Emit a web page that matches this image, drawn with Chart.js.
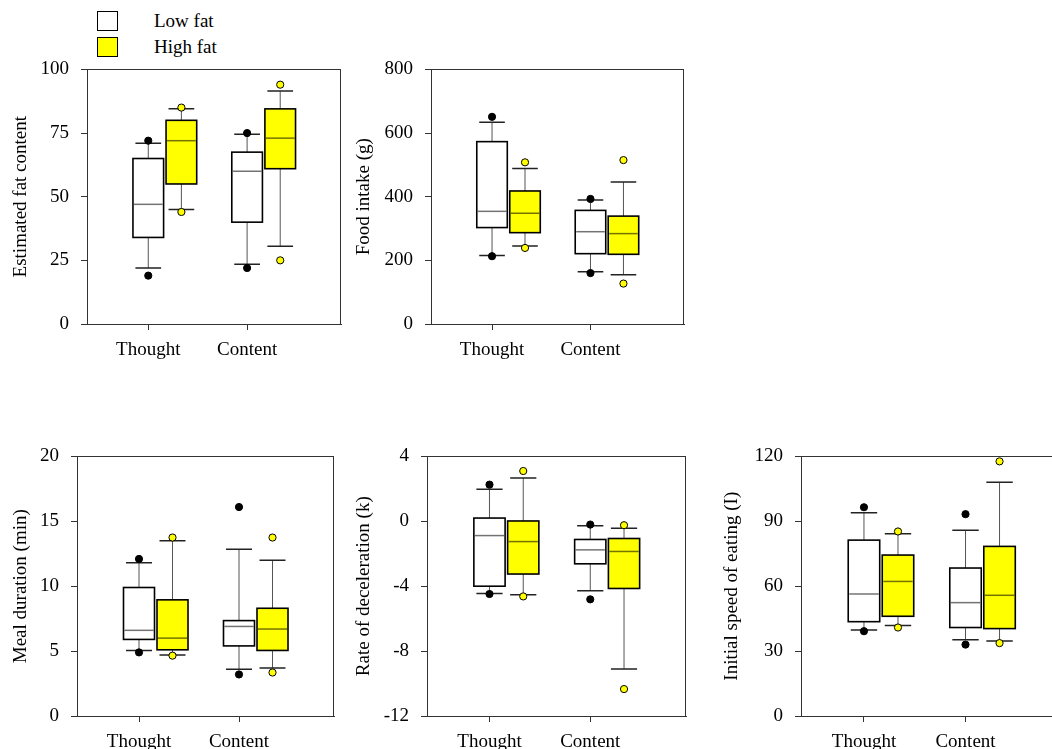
<!DOCTYPE html>
<html>
<head>
<meta charset="utf-8">
<script src="https://cdn.jsdelivr.net/npm/chart.js@4.4.1/dist/chart.umd.min.js"></script>
<style>
  html, body { margin: 0; padding: 0; background: #fff; overflow: hidden; width: 1052px; height: 749px; }
  canvas { position: absolute; }
  .key { position: absolute; width: 21px; height: 20px; box-sizing: border-box; border: 1.5px solid #000; }
  .keyText { position: absolute; font: 19px "Liberation Serif", "Times New Roman", serif; line-height: 20px; color: #000; white-space: nowrap; }
</style>
</head>
<body>
<div class="key" style="left:97px;top:11px;background:#fff"></div>
<div class="keyText" style="left:154px;top:11px">Low fat</div>
<div class="key" style="left:97px;top:37px;background:#ffff00"></div>
<div class="keyText" style="left:154px;top:37px">High fat</div>

<script>
// ---- data ----
const categories = ['Thought', 'Content'];
const groups = ['Low fat', 'High fat'];

// box stats per category: [lower whisker, Q1, median, Q3, upper whisker]
// outliers per category: [lowest point, highest point]
const fatTicks = [0, 25, 50, 75, 100];
const fatLow = [[22, 34, 47, 65, 71], [23.5, 40, 60, 67.5, 74.5]];
const fatLowOut = [[19, 72], [22, 75]];
const fatHigh = [[45, 55, 72, 80, 84.5], [30.5, 61, 73, 84.5, 91.5]];
const fatHighOut = [[44, 85], [25, 94]];

const intakeTicks = [0, 200, 400, 600, 800];
const intakeLow = [[215, 303, 354, 573, 634], [164, 221, 290, 357, 390]];
const intakeLowOut = [[213, 651], [160, 393]];
const intakeHigh = [[245, 287, 348, 418, 489], [155, 219, 284, 339, 446]];
const intakeHighOut = [[239, 508], [127, 515]];

const durationTicks = [0, 5, 10, 15, 20];
const durationLow = [[5.05, 5.9, 6.6, 9.9, 11.8], [3.6, 5.4, 6.9, 7.35, 12.85]];
const durationLowOut = [[4.9, 12.1], [3.2, 16.1]];
const durationHigh = [[4.7, 5.1, 6.0, 8.95, 13.5], [3.7, 5.05, 6.7, 8.3, 12]];
const durationHighOut = [[4.65, 13.75], [3.35, 13.75]];

const decelTicks = [-12, -8, -4, 0, 4];
const decelLow = [[-4.45, -4.0, -0.88, 0.2, 1.97], [-4.28, -2.62, -1.76, -1.12, -0.28]];
const decelLowOut = [[-4.48, 2.26], [-4.81, -0.2]];
const decelHigh = [[-4.52, -3.25, -1.25, 0.02, 2.67], [-9.1, -4.14, -1.86, -1.06, -0.43]];
const decelHighOut = [[-4.63, 3.1], [-10.34, -0.24]];

const speedTicks = [0, 30, 60, 90, 120];
const speedLow = [[39.8, 43.6, 56.4, 81.3, 93.9], [35.2, 40.9, 52.4, 68.4, 85.9]];
const speedLowOut = [[39.2, 96.5], [33, 93.3]];
const speedHigh = [[41.8, 46.1, 62.2, 74.4, 84.2], [34.7, 40.4, 55.8, 78.4, 108]];
const speedHighOut = [[40.9, 85.3], [33.7, 117.7]];

// ---- layout ----
const FONT = '"Liberation Serif", "Times New Roman", serif';
const colors = { low: '#ffffff', high: '#ffff00', line: '#333333', whisker: '#555555' };
const X_AXIS_H = 40, PAD_RIGHT = 3;
const HIGH_SHIFT = 0.335;  // high fat box sits right of the tick
const BOX_HALF = 0.155, CAP_HALF = 0.13;

// canvasLeft, plot left/top/right/bottom in page pixels
const panels = [
    { title: 'Estimated fat content', ticks: fatTicks, low: fatLow, lowOut: fatLowOut, high: fatHigh, highOut: fatHighOut,
      canvasLeft: 10, plot: [87, 69, 343, 324] },
    { title: 'Food intake (g)', ticks: intakeTicks, low: intakeLow, lowOut: intakeLowOut, high: intakeHigh, highOut: intakeHighOut,
      canvasLeft: 353, plot: [431, 69, 686, 324] },
    { title: 'Meal duration (min)', ticks: durationTicks, low: durationLow, lowOut: durationLowOut, high: durationHigh, highOut: durationHighOut,
      canvasLeft: 10, plot: [77, 456, 336, 716] },
    { title: 'Rate of deceleration (k)', ticks: decelTicks, low: decelLow, lowOut: decelLowOut, high: decelHigh, highOut: decelHighOut,
      canvasLeft: 353, plot: [427, 456, 688, 716] },
    { title: 'Initial speed of eating (I)', ticks: speedTicks, low: speedLow, lowOut: speedLowOut, high: speedHigh, highOut: speedHighOut,
      canvasLeft: 721, plot: [801, 456, 1064, 716] }
];

function boxPlugin(panel) {
    return {
        id: 'boxes',
        beforeDatasetsDraw(chart) {
            const { ctx, chartArea: a, scales: { x, y } } = chart;
            ctx.save();
            // frame
            ctx.strokeStyle = colors.line;
            ctx.lineWidth = 1;
            ctx.strokeRect(Math.round(a.left) + 0.5, Math.round(a.top) + 0.5, Math.round(a.right - a.left) - 1, Math.round(a.bottom - a.top));

            const series = [
                { stats: panel.low, fill: colors.low, shift: 0 },
                { stats: panel.high, fill: colors.high, shift: HIGH_SHIFT }
            ];
            series.forEach(s => {
                s.stats.forEach((st, i) => {
                    const c = i + 1 + s.shift;
                    const xc = x.getPixelForValue(c);
                    const x0 = x.getPixelForValue(c - BOX_HALF);
                    const x1 = x.getPixelForValue(c + BOX_HALF);
                    const cx0 = x.getPixelForValue(c - CAP_HALF);
                    const cx1 = x.getPixelForValue(c + CAP_HALF);
                    const [wLo, q1, med, q3, wHi] = st.map(v => y.getPixelForValue(v));

                    // whiskers
                    ctx.strokeStyle = colors.whisker;
                    ctx.lineWidth = 1;
                    ctx.beginPath();
                    ctx.moveTo(xc, wLo); ctx.lineTo(xc, q1);
                    ctx.moveTo(xc, q3); ctx.lineTo(xc, wHi);
                    ctx.stroke();
                    ctx.strokeStyle = '#222';
                    ctx.lineWidth = 1.5;
                    ctx.beginPath();
                    ctx.moveTo(cx0, wLo); ctx.lineTo(cx1, wLo);
                    ctx.moveTo(cx0, wHi); ctx.lineTo(cx1, wHi);
                    ctx.stroke();

                    // box
                    ctx.fillStyle = s.fill;
                    ctx.fillRect(x0, q3, x1 - x0, q1 - q3);
                    ctx.strokeStyle = '#000';
                    ctx.lineWidth = 1.6;
                    ctx.strokeRect(x0, q3, x1 - x0, q1 - q3);

                    // median
                    ctx.strokeStyle = 'rgba(0,0,0,0.55)';
                    ctx.lineWidth = 1.5;
                    ctx.beginPath();
                    ctx.moveTo(x0 + 1, med); ctx.lineTo(x1 - 1, med);
                    ctx.stroke();
                });
            });
            ctx.restore();
        }
    };
}

function outlierPoints(out, shift) {
    const pts = [];
    out.forEach((vals, i) => vals.forEach(v => pts.push({ x: i + 1 + shift, y: v })));
    return pts;
}

function render(panel) {
    const [pl, pt, pr, pb] = panel.plot;
    const yAxisW = pl - panel.canvasLeft;
    const plotH = pb - pt;
    const canvas = document.createElement('canvas');
    canvas.width = yAxisW + (pr - pl) + PAD_RIGHT;
    canvas.height = 20 + plotH + X_AXIS_H;
    canvas.style.left = panel.canvasLeft + 'px';
    document.body.appendChild(canvas);

    const yMin = panel.ticks[0];
    const yMax = panel.ticks[panel.ticks.length - 1];

    const chart = new Chart(canvas, {
        type: 'scatter',
        data: {
            datasets: [
                {
                    label: groups[0],
                    data: outlierPoints(panel.lowOut, 0),
                    pointRadius: 3.6,
                    backgroundColor: '#000',
                    borderColor: '#000',
                    borderWidth: 1
                },
                {
                    label: groups[1],
                    data: outlierPoints(panel.highOut, HIGH_SHIFT),
                    pointRadius: 3.6,
                    backgroundColor: colors.high,
                    borderColor: '#000',
                    borderWidth: 1
                }
            ]
        },
        options: {
            responsive: false,
            maintainAspectRatio: false,
            animation: false,
            events: [],
            layout: { padding: { top: 0, right: PAD_RIGHT, left: 0, bottom: 0 } },
            plugins: { legend: { display: false }, tooltip: { enabled: false } },
            scales: {
                x: {
                    type: 'linear',
                    min: 0.38,
                    max: 2.95,
                    afterBuildTicks: s => { s.ticks = [1, 2].map(v => ({ value: v })); },
                    afterFit: s => { s.height = X_AXIS_H; },
                    ticks: {
                        callback: v => categories[v - 1],
                        color: '#000',
                        font: { family: FONT, size: 19 },
                        padding: 9,
                        maxRotation: 0
                    },
                    grid: { drawOnChartArea: false, drawTicks: true, tickLength: 6, color: colors.line },
                    border: { display: true, color: colors.line, width: 1 }
                },
                y: {
                    min: yMin,
                    max: yMax,
                    afterBuildTicks: s => { s.ticks = panel.ticks.map(v => ({ value: v })); },
                    afterFit: s => { s.width = yAxisW; },
                    ticks: {
                        color: '#000',
                        font: { family: FONT, size: 19 },
                        padding: 12
                    },
                    title: {
                        display: true,
                        text: panel.title,
                        color: '#000',
                        font: { family: FONT, size: 19 },
                        padding: 0
                    },
                    grid: { drawOnChartArea: false, drawTicks: true, tickLength: 6, color: colors.line },
                    border: { display: true, color: colors.line, width: 1 }
                }
            }
        },
        plugins: [boxPlugin(panel)]
    });

    // size the canvas so the plot box lands exactly on the page rectangle
    let h = canvas.height;
    for (let k = 0; k < 3; k++) {
        const diff = plotH - Math.round(chart.chartArea.bottom - chart.chartArea.top);
        if (diff === 0) break;
        h += diff;
        chart.resize(canvas.width, h);
    }
    canvas.style.top = (pt - Math.round(chart.chartArea.top)) + 'px';
}

panels.forEach(render);
</script>
</body>
</html>
